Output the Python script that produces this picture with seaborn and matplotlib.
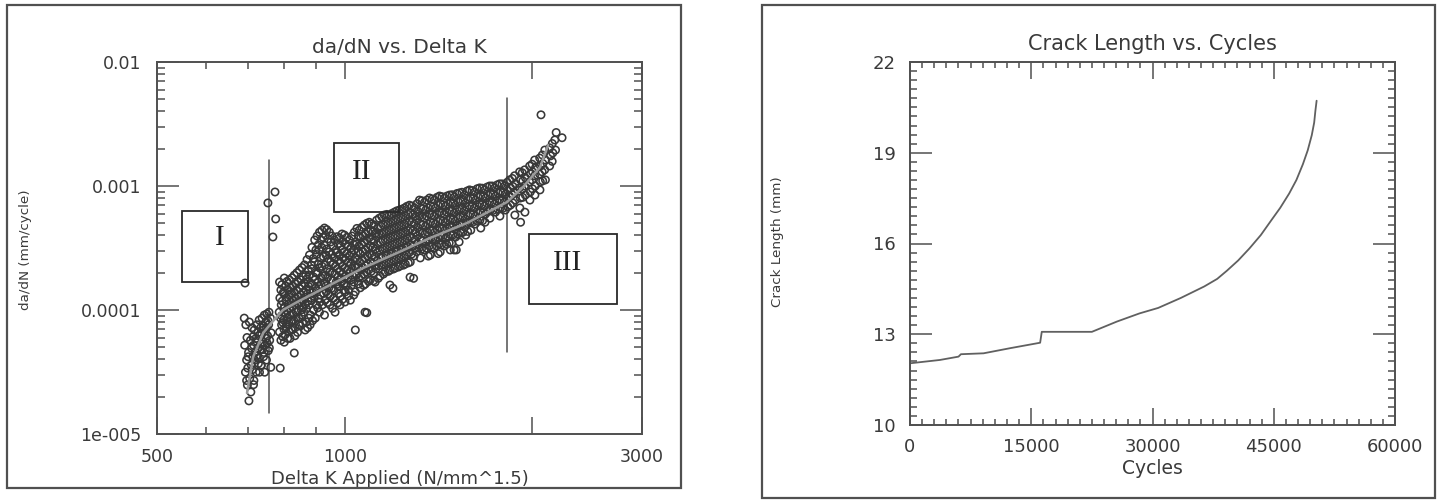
"""
Fatigue crack growth: da/dN vs Delta K (log-log) and crack length vs cycles.
"""

import matplotlib
matplotlib.use('Agg')
import matplotlib.pyplot as plt
import matplotlib.ticker as mticker
from matplotlib.patches import Rectangle
import numpy as np
import pandas as pd
import seaborn as sns

# --- da/dN scatter (Delta K in N/mm^1.5, da/dN in mm/cycle) ---
# stage I cluster + a few outliers
dk_s1 = [
    690, 694, 691, 696, 693, 698,
    703, 706, 701, 708, 704, 707, 702,
    716, 720, 714, 719, 717, 721, 715,
    729, 733, 728, 735, 731, 727, 734, 730,
    743, 747, 741, 748, 745, 742, 749, 744,
    756, 760, 755, 762, 758, 757, 761,
    697, 700, 699, 696,
    710, 713, 709, 712, 711, 714,
    723, 726, 722, 725, 724, 727,
    737, 740, 736, 739, 738, 741, 735,
    750, 753, 749, 752, 751, 754,
    692, 753, 773, 775, 767, 788, 830, 1040, 1085, 1195, 1290, 1510,
]
dadn_s1 = [
    8.6e-5, 7.6e-5, 5.2e-5, 3.95e-5, 3.15e-5, 2.48e-5,
    8.0e-5, 5.7e-5, 4.55e-5, 3.6e-5, 2.8e-5, 2.18e-5, 1.85e-5,
    6.9e-5, 5.9e-5, 5.2e-5, 4.55e-5, 3.95e-5, 3.15e-5, 2.7e-5,
    8.3e-5, 7.2e-5, 6.2e-5, 5.3e-5, 4.75e-5, 4.1e-5, 3.55e-5, 3.15e-5,
    9.1e-5, 8.0e-5, 6.9e-5, 5.9e-5, 5.2e-5, 4.55e-5, 3.95e-5, 3.15e-5,
    9.6e-5, 8.6e-5, 7.6e-5, 6.55e-5, 5.7e-5, 4.95e-5, 3.45e-5,
    6.0e-5, 4.2e-5, 3.4e-5, 2.7e-5,
    7.2e-5, 6.1e-5, 4.9e-5, 4.2e-5, 3.3e-5, 2.5e-5,
    7.6e-5, 6.6e-5, 5.6e-5, 4.9e-5, 4.3e-5, 3.7e-5,
    8.6e-5, 7.4e-5, 6.4e-5, 5.5e-5, 4.8e-5, 4.2e-5, 3.6e-5,
    9.3e-5, 8.2e-5, 7.2e-5, 6.2e-5, 5.4e-5, 4.7e-5,
    1.65e-4, 7.3e-4, 8.95e-4, 5.42e-4, 3.88e-4, 3.4e-5, 4.5e-5, 6.9e-5, 9.5e-5, 1.5e-4, 1.8e-4, 3.05e-4,
]

# stage II band
dk_s2 = [
    786, 790, 787, 791, 785, 789, 792, 786, 790,
    800, 804, 799, 805, 801, 803, 798, 806, 802, 800,
    815, 819, 814, 820, 816, 818, 813, 821, 817,
    830, 835, 829, 834, 831, 836, 828, 833, 832,
    846, 851, 845, 850, 847, 852, 844, 849,
    862, 866, 861, 867, 863, 865, 860, 868, 864,
    878, 883, 877, 882, 879, 884, 876, 881, 880,
    895, 899, 894, 900, 896, 898, 893, 901, 897,
    911, 916, 910, 915, 912, 917, 909, 914, 913, 911,
    928, 932, 927, 933, 929, 931, 926, 934, 930, 928,
    945, 950, 944, 949, 946, 951, 943, 948, 947,
    963, 968, 962, 967, 964, 969, 961, 966, 965,
    981, 986, 980, 985, 982, 987, 979, 984, 983,
    999, 1004, 998, 1003, 1000, 1005, 997, 1002, 1001,
    1017, 1023, 1016, 1022, 1019, 1024, 1015, 1021,
    1036, 1042, 1035, 1041, 1038, 1043, 1034, 1040,
    1055, 1061, 1054, 1060, 1057, 1062, 1053, 1059,
    1075, 1081, 1074, 1080, 1077, 1082, 1073, 1079, 1078,
    1095, 1101, 1094, 1100, 1097, 1102, 1093, 1099,
    1115, 1121, 1114, 1120, 1117, 1122, 1113, 1119,
    1136, 1142, 1135, 1141, 1138, 1143, 1134, 1140,
    1157, 1163, 1156, 1162, 1159, 1164, 1155, 1161,
    1179, 1185, 1178, 1184, 1181, 1186, 1177, 1183, 1182,
    1201, 1207, 1200, 1206, 1203, 1208, 1199, 1205,
    1224, 1230, 1223, 1229, 1226, 1231, 1222, 1228,
    1247, 1253, 1246, 1252, 1249, 1254, 1245, 1251,
    1270, 1276, 1269, 1275, 1272, 1277, 1268, 1274, 1273,
    1294, 1300, 1293, 1299, 1296, 1301, 1292,
    1318, 1324, 1317, 1323, 1320, 1325, 1316, 1322,
    1343, 1349, 1342, 1348, 1345, 1350, 1341,
    1368, 1374, 1367, 1373, 1370, 1375, 1366, 1372,
    1393, 1399, 1392, 1398, 1395, 1400, 1391,
    1419, 1425, 1418, 1424, 1421, 1426, 1417, 1423,
    1446, 1452, 1445, 1451, 1448, 1453, 1444,
    1473, 1479, 1472, 1478, 1475, 1480, 1471, 1477,
    1500, 1506, 1499, 1505, 1502, 1507, 1498,
    1528, 1534, 1527, 1533, 1530, 1535, 1526,
    1557, 1563, 1556, 1562, 1559, 1564,
    1586, 1592, 1585, 1591, 1588, 1593,
    1616, 1622, 1615, 1621, 1618,
    1646, 1652, 1645, 1651, 1648, 1653,
    1677, 1683, 1676, 1682, 1679,
    1708, 1714, 1707, 1713, 1710,
    1740, 1746, 1739, 1745,
    1772, 1778, 1771, 1777, 1774,
    1805, 1811, 1804, 1810,
]
dadn_s2 = [
    1.68e-4, 1.45e-4, 1.25e-4, 1.1e-4, 9.6e-5, 8.6e-5, 7.6e-5, 6.65e-5, 5.7e-5,
    1.81e-4, 1.56e-4, 1.35e-4, 1.2e-4, 1.06e-4, 9.3e-5, 8.3e-5, 7.3e-5, 6.3e-5, 5.5e-5,
    1.75e-4, 1.51e-4, 1.32e-4, 1.16e-4, 1.04e-4, 9.1e-5, 8.0e-5, 6.9e-5, 5.9e-5,
    1.91e-4, 1.62e-4, 1.4e-4, 1.25e-4, 1.1e-4, 9.6e-5, 8.3e-5, 7.2e-5, 6.2e-5,
    2.1e-4, 1.75e-4, 1.51e-4, 1.32e-4, 1.16e-4, 1.0e-4, 8.6e-5, 7.45e-5,
    2.31e-4, 1.91e-4, 1.65e-4, 1.45e-4, 1.27e-4, 1.12e-4, 9.6e-5, 8.0e-5, 6.9e-5,
    2.78e-4, 2.31e-4, 1.91e-4, 1.65e-4, 1.45e-4, 1.25e-4, 1.1e-4, 9.1e-5, 7.6e-5,
    3.67e-4, 3.05e-4, 2.44e-4, 2.02e-4, 1.75e-4, 1.51e-4, 1.29e-4, 1.1e-4, 8.6e-5,
    4.24e-4, 3.67e-4, 3.05e-4, 2.63e-4, 2.18e-4, 1.81e-4, 1.56e-4, 1.32e-4, 1.16e-4, 9.6e-5,
    4.58e-4, 4.02e-4, 3.34e-4, 2.78e-4, 2.31e-4, 1.91e-4, 1.65e-4, 1.4e-4, 1.2e-4, 9.1e-5,
    4.24e-4, 3.54e-4, 2.94e-4, 2.44e-4, 2.02e-4, 1.75e-4, 1.51e-4, 1.29e-4, 1.1e-4,
    3.67e-4, 3.05e-4, 2.63e-4, 2.27e-4, 1.95e-4, 1.68e-4, 1.45e-4, 1.2e-4, 9.6e-5,
    3.81e-4, 3.28e-4, 2.78e-4, 2.4e-4, 2.06e-4, 1.78e-4, 1.54e-4, 1.29e-4, 1.1e-4,
    4.02e-4, 3.41e-4, 2.94e-4, 2.53e-4, 2.18e-4, 1.88e-4, 1.62e-4, 1.4e-4, 1.16e-4,
    3.67e-4, 3.16e-4, 2.73e-4, 2.35e-4, 2.02e-4, 1.75e-4, 1.45e-4, 1.2e-4,
    4.24e-4, 3.54e-4, 3.05e-4, 2.63e-4, 2.27e-4, 1.95e-4, 1.68e-4, 1.4e-4,
    4.4e-4, 3.81e-4, 3.28e-4, 2.83e-4, 2.44e-4, 2.1e-4, 1.81e-4, 1.51e-4,
    4.84e-4, 4.1e-4, 3.54e-4, 3.05e-4, 2.63e-4, 2.27e-4, 1.95e-4, 1.62e-4, 9.6e-5,
    5.1e-4, 4.4e-4, 3.81e-4, 3.28e-4, 2.83e-4, 2.44e-4, 2.1e-4, 1.75e-4,
    4.84e-4, 4.17e-4, 3.6e-4, 3.1e-4, 2.68e-4, 2.31e-4, 1.99e-4, 1.68e-4,
    5.5e-4, 4.75e-4, 4.1e-4, 3.54e-4, 3.05e-4, 2.63e-4, 2.27e-4, 1.88e-4,
    5.83e-4, 4.93e-4, 4.24e-4, 3.67e-4, 3.16e-4, 2.73e-4, 2.35e-4, 2.02e-4,
    5.83e-4, 5.1e-4, 4.4e-4, 3.81e-4, 3.28e-4, 2.83e-4, 2.44e-4, 2.1e-4, 1.59e-4,
    6.15e-4, 5.3e-4, 4.58e-4, 3.95e-4, 3.41e-4, 2.94e-4, 2.53e-4, 2.18e-4,
    6.4e-4, 5.5e-4, 4.75e-4, 4.1e-4, 3.54e-4, 3.05e-4, 2.63e-4, 2.27e-4,
    6.65e-4, 5.72e-4, 4.93e-4, 4.24e-4, 3.67e-4, 3.16e-4, 2.73e-4, 2.35e-4,
    7.0e-4, 6.05e-4, 5.2e-4, 4.49e-4, 3.88e-4, 3.34e-4, 2.89e-4, 2.44e-4, 1.84e-4,
    6.65e-4, 5.72e-4, 4.93e-4, 4.24e-4, 3.67e-4, 3.16e-4, 2.73e-4,
    7.7e-4, 6.65e-4, 5.72e-4, 4.93e-4, 4.24e-4, 3.67e-4, 3.16e-4, 2.63e-4,
    7.4e-4, 6.4e-4, 5.5e-4, 4.75e-4, 4.1e-4, 3.54e-4, 3.05e-4,
    8.0e-4, 6.9e-4, 5.94e-4, 5.1e-4, 4.4e-4, 3.81e-4, 3.28e-4, 2.78e-4,
    7.7e-4, 6.65e-4, 5.72e-4, 4.93e-4, 4.24e-4, 3.67e-4, 3.16e-4,
    8.3e-4, 7.15e-4, 6.15e-4, 5.3e-4, 4.58e-4, 3.95e-4, 3.41e-4, 2.94e-4,
    8.0e-4, 6.9e-4, 5.94e-4, 5.1e-4, 4.4e-4, 3.81e-4, 3.28e-4,
    8.45e-4, 7.3e-4, 6.3e-4, 5.4e-4, 4.66e-4, 4.02e-4, 3.47e-4, 3.05e-4,
    8.15e-4, 7.0e-4, 6.05e-4, 5.2e-4, 4.49e-4, 3.88e-4, 3.05e-4,
    8.8e-4, 7.55e-4, 6.5e-4, 5.6e-4, 4.84e-4, 4.17e-4, 3.54e-4,
    8.45e-4, 7.3e-4, 6.3e-4, 5.4e-4, 4.66e-4, 4.02e-4,
    9.3e-4, 8.0e-4, 6.9e-4, 5.94e-4, 5.1e-4, 4.4e-4,
    8.95e-4, 7.7e-4, 6.65e-4, 5.72e-4, 4.93e-4,
    9.65e-4, 8.3e-4, 7.15e-4, 6.15e-4, 5.3e-4, 4.58e-4,
    9.3e-4, 8.0e-4, 6.9e-4, 5.94e-4, 5.1e-4,
    1.0e-3, 8.6e-4, 7.4e-4, 6.4e-4, 5.5e-4,
    9.65e-4, 8.3e-4, 7.15e-4, 6.15e-4,
    1.04e-3, 8.95e-4, 7.7e-4, 6.65e-4, 5.72e-4,
    1.0e-3, 8.6e-4, 7.4e-4, 6.4e-4,
]

# stage II band, points lying between the columns above
dk_s2b = [
    793, 797, 794, 798, 792, 796, 799, 795,
    808, 812, 807, 813, 809, 811, 806, 814, 810,
    823, 827, 822, 828, 824, 826, 821, 825,
    838, 842, 837, 843, 839, 841, 836, 844, 840,
    854, 858, 853, 859, 855, 857, 852, 856,
    870, 874, 869, 875, 871, 873, 868, 876, 872,
    886, 890, 885, 891, 887, 889, 884, 892, 888,
    903, 907, 902, 908, 904, 906, 901, 909, 905,
    919, 923, 918, 924, 920, 922, 917, 925, 921,
    936, 940, 935, 941, 937, 939, 934, 942, 938,
    954, 958, 953, 959, 955, 957, 952, 960, 956,
    972, 976, 971, 977, 973, 975, 970, 978, 974,
    990, 994, 989, 995, 991, 993, 988, 996, 992,
    1008, 1012, 1007, 1013, 1009, 1011, 1006, 1014,
    1027, 1033, 1026, 1032, 1029, 1031, 1025, 1034,
    1046, 1052, 1045, 1051, 1048, 1050, 1044, 1053,
    1065, 1071, 1064, 1070, 1067, 1069, 1063, 1072,
    1085, 1091, 1084, 1090, 1087, 1089, 1083, 1092,
    1105, 1111, 1104, 1110, 1107, 1109, 1103, 1112,
    1125, 1131, 1124, 1130, 1127, 1129, 1123, 1132,
    1147, 1153, 1146, 1152, 1149, 1151, 1145, 1154,
    1168, 1174, 1167, 1173, 1170, 1172, 1166, 1175,
    1190, 1196, 1189, 1195, 1192, 1194, 1188, 1197,
    1212, 1218, 1211, 1217, 1214, 1216, 1210, 1219,
    1235, 1241, 1234, 1240, 1237, 1239, 1233, 1242,
    1258, 1264, 1257, 1263, 1260, 1262, 1256, 1265,
    1282, 1288, 1281, 1287, 1284, 1286, 1280,
    1306, 1312, 1305, 1311, 1308, 1310, 1304,
    1330, 1336, 1329, 1335, 1332, 1334, 1328,
    1355, 1361, 1354, 1360, 1357, 1359, 1353, 1362,
    1381, 1387, 1380, 1386, 1383, 1385, 1379,
    1406, 1412, 1405, 1411, 1408, 1410, 1404, 1413,
    1432, 1438, 1431, 1437, 1434, 1436, 1430,
    1459, 1465, 1458, 1464, 1461, 1463, 1457,
    1487, 1493, 1486, 1492, 1489, 1491, 1485,
    1514, 1520, 1513, 1519, 1516, 1518,
    1542, 1548, 1541, 1547, 1544, 1546,
    1571, 1577, 1570, 1576, 1573, 1575,
    1601, 1607, 1600, 1606, 1603,
    1631, 1637, 1630, 1636, 1633,
    1662, 1668, 1661, 1667, 1664,
    1692, 1698, 1691, 1697,
    1724, 1730, 1723, 1729,
    1756, 1762, 1755, 1761,
    1788, 1794, 1787, 1793,
    1822, 1828, 1821, 1827,
]
dadn_s2b = [
    1.6e-4, 1.38e-4, 1.18e-4, 1.03e-4, 9.0e-5, 7.9e-5, 7.0e-5, 6.1e-5,
    1.7e-4, 1.45e-4, 1.26e-4, 1.12e-4, 9.8e-5, 8.7e-5, 7.7e-5, 6.7e-5, 5.9e-5,
    1.82e-4, 1.55e-4, 1.36e-4, 1.19e-4, 1.06e-4, 9.3e-5, 8.2e-5, 7.0e-5,
    2.0e-4, 1.68e-4, 1.44e-4, 1.28e-4, 1.13e-4, 9.9e-5, 8.7e-5, 7.6e-5, 6.6e-5,
    2.2e-4, 1.85e-4, 1.58e-4, 1.38e-4, 1.2e-4, 1.05e-4, 9.1e-5, 7.8e-5,
    2.55e-4, 2.1e-4, 1.78e-4, 1.55e-4, 1.35e-4, 1.18e-4, 1.03e-4, 8.6e-5, 7.2e-5,
    3.2e-4, 2.6e-4, 2.15e-4, 1.85e-4, 1.6e-4, 1.38e-4, 1.19e-4, 1.0e-4, 8.2e-5,
    3.95e-4, 3.35e-4, 2.8e-4, 2.35e-4, 1.97e-4, 1.68e-4, 1.43e-4, 1.23e-4, 1.04e-4,
    4.4e-4, 3.85e-4, 3.2e-4, 2.7e-4, 2.25e-4, 1.88e-4, 1.6e-4, 1.36e-4, 1.1e-4,
    4.45e-4, 3.75e-4, 3.1e-4, 2.6e-4, 2.15e-4, 1.83e-4, 1.57e-4, 1.35e-4, 1.15e-4,
    3.95e-4, 3.3e-4, 2.8e-4, 2.35e-4, 2.0e-4, 1.72e-4, 1.49e-4, 1.25e-4, 1.03e-4,
    3.9e-4, 3.4e-4, 2.9e-4, 2.5e-4, 2.15e-4, 1.85e-4, 1.6e-4, 1.36e-4, 1.14e-4,
    4.1e-4, 3.55e-4, 3.05e-4, 2.62e-4, 2.25e-4, 1.95e-4, 1.68e-4, 1.45e-4, 1.22e-4,
    3.85e-4, 3.3e-4, 2.85e-4, 2.45e-4, 2.1e-4, 1.82e-4, 1.55e-4, 1.3e-4,
    3.95e-4, 3.38e-4, 2.9e-4, 2.5e-4, 2.15e-4, 1.86e-4, 1.58e-4, 1.32e-4,
    4.55e-4, 3.95e-4, 3.4e-4, 2.95e-4, 2.55e-4, 2.2e-4, 1.9e-4, 1.62e-4,
    4.65e-4, 3.95e-4, 3.4e-4, 2.95e-4, 2.55e-4, 2.2e-4, 1.88e-4, 1.58e-4,
    5.0e-4, 4.25e-4, 3.68e-4, 3.15e-4, 2.73e-4, 2.36e-4, 2.02e-4, 1.7e-4,
    4.95e-4, 4.3e-4, 3.7e-4, 3.2e-4, 2.76e-4, 2.38e-4, 2.05e-4, 1.72e-4,
    5.3e-4, 4.55e-4, 3.9e-4, 3.35e-4, 2.9e-4, 2.5e-4, 2.15e-4, 1.8e-4,
    5.65e-4, 4.85e-4, 4.15e-4, 3.6e-4, 3.1e-4, 2.68e-4, 2.3e-4, 1.95e-4,
    5.9e-4, 5.0e-4, 4.3e-4, 3.72e-4, 3.22e-4, 2.78e-4, 2.4e-4, 2.05e-4,
    6.0e-4, 5.2e-4, 4.48e-4, 3.88e-4, 3.35e-4, 2.88e-4, 2.48e-4, 2.14e-4,
    6.3e-4, 5.4e-4, 4.65e-4, 4.0e-4, 3.47e-4, 3.0e-4, 2.58e-4, 2.22e-4,
    6.5e-4, 5.6e-4, 4.82e-4, 4.17e-4, 3.6e-4, 3.1e-4, 2.68e-4, 2.3e-4,
    6.85e-4, 5.9e-4, 5.05e-4, 4.36e-4, 3.77e-4, 3.25e-4, 2.8e-4, 2.4e-4,
    6.9e-4, 5.9e-4, 5.1e-4, 4.4e-4, 3.8e-4, 3.27e-4, 2.82e-4,
    7.2e-4, 6.2e-4, 5.33e-4, 4.6e-4, 3.96e-4, 3.42e-4, 2.95e-4,
    7.6e-4, 6.55e-4, 5.63e-4, 4.85e-4, 4.18e-4, 3.6e-4, 3.1e-4,
    7.7e-4, 6.65e-4, 5.73e-4, 4.93e-4, 4.25e-4, 3.66e-4, 3.15e-4, 2.72e-4,
    7.85e-4, 6.8e-4, 5.85e-4, 5.05e-4, 4.35e-4, 3.75e-4, 3.22e-4,
    8.1e-4, 7.0e-4, 6.0e-4, 5.18e-4, 4.45e-4, 3.85e-4, 3.3e-4, 2.85e-4,
    8.2e-4, 7.05e-4, 6.05e-4, 5.22e-4, 4.5e-4, 3.88e-4, 3.35e-4,
    8.3e-4, 7.15e-4, 6.15e-4, 5.3e-4, 4.56e-4, 3.93e-4, 3.38e-4,
    8.5e-4, 7.3e-4, 6.3e-4, 5.42e-4, 4.67e-4, 4.02e-4, 3.45e-4,
    8.7e-4, 7.5e-4, 6.45e-4, 5.55e-4, 4.78e-4, 4.12e-4,
    8.9e-4, 7.65e-4, 6.6e-4, 5.68e-4, 4.9e-4, 4.22e-4,
    9.1e-4, 7.85e-4, 6.75e-4, 5.82e-4, 5.0e-4, 4.3e-4,
    9.2e-4, 7.95e-4, 6.85e-4, 5.9e-4, 5.08e-4,
    9.5e-4, 8.15e-4, 7.0e-4, 6.05e-4, 5.2e-4,
    9.6e-4, 8.25e-4, 7.1e-4, 6.1e-4, 5.25e-4,
    9.8e-4, 8.45e-4, 7.25e-4, 6.25e-4,
    1.0e-3, 8.6e-4, 7.4e-4, 6.35e-4,
    1.02e-3, 8.8e-4, 7.55e-4, 6.5e-4,
    1.04e-3, 8.9e-4, 7.65e-4, 6.6e-4,
    1.07e-3, 9.2e-4, 7.9e-4, 6.8e-4,
]

# stage III
dk_s3 = [
    1839, 1845, 1838, 1844,
    1858, 1862, 1857, 1861,
    1873, 1879, 1872, 1878, 1875,
    1908, 1914, 1907, 1913, 1910, 1915,
    1927, 1931, 1926, 1930,
    1944, 1950, 1943, 1949, 1946,
    1980, 1986, 1979, 1985, 1982,
    1998, 2002, 1997, 2001,
    2017, 2023, 2016, 2022, 2019,
    2055, 2061, 2054, 2060, 2057,
    2075, 2079, 2074, 2078,
    2094, 2100, 2093, 2099,
    2133, 2139, 2132,
    2153, 2157, 2152,
    2173, 2179,
    2065, 2184, 2232,
]
dadn_s3 = [
    1.12e-3, 9.65e-4, 8.3e-4, 7.0e-4,
    1.15e-3, 9.9e-4, 8.5e-4, 7.3e-4,
    1.21e-3, 1.04e-3, 8.95e-4, 7.7e-4, 5.83e-4,
    1.3e-3, 1.12e-3, 9.65e-4, 8.0e-4, 6.65e-4, 5.1e-4,
    1.28e-3, 1.1e-3, 9.4e-4, 8.1e-4,
    1.35e-3, 1.16e-3, 1.0e-3, 8.45e-4, 6.15e-4,
    1.45e-3, 1.25e-3, 1.08e-3, 8.95e-4, 7.7e-4,
    1.5e-3, 1.3e-3, 1.12e-3, 9.5e-4,
    1.62e-3, 1.4e-3, 1.21e-3, 1.0e-3, 8.45e-4,
    1.68e-3, 1.45e-3, 1.25e-3, 1.08e-3, 9.3e-4,
    1.78e-3, 1.52e-3, 1.3e-3, 1.1e-3,
    1.95e-3, 1.62e-3, 1.35e-3, 1.12e-3,
    2.03e-3, 1.75e-3, 1.45e-3,
    2.2e-3, 1.85e-3, 1.58e-3,
    2.35e-3, 1.95e-3,
    3.75e-3, 2.7e-3, 2.45e-3,
]

# fitted curve through the data
dk_fit = [697, 713, 740, 765, 796, 839, 947, 1070, 1213, 1371, 1571, 1822, 1933, 2058, 2120]
dadn_fit = [2.14e-5, 4.18e-5, 6.53e-5, 8.0e-5, 1.0e-4, 1.16e-4, 1.59e-4, 2.18e-4,
            2.88e-4, 3.81e-4, 5.03e-4, 7.43e-4, 9.82e-4, 1.42e-3, 2.14e-3]

# region boundaries (Delta K) and their vertical extent
bound_dk = [756, 1822]
bound_lo = [1.48e-5, 4.58e-5]
bound_hi = [1.62e-3, 5.13e-3]
region_labels = ["I", "II", "III"]

# --- crack length vs cycles ---
cycles = [0, 3700, 6000, 6300, 9100, 12400, 16100, 16300, 22500, 25600, 28400, 30700,
          33500, 36400, 38000, 39200, 40600, 42000, 43400, 44700, 45800, 46900, 47800,
          48600, 49200, 49700, 50000, 50150, 50300]
crack_len = [12.04, 12.15, 12.26, 12.34, 12.37, 12.54, 12.72, 13.08, 13.08, 13.42, 13.69, 13.87,
             14.20, 14.58, 14.83, 15.10, 15.44, 15.84, 16.28, 16.77, 17.18, 17.65, 18.10,
             18.62, 19.08, 19.58, 20.00, 20.39, 20.72]

AX_COL = '#505050'
TXT_COL = '#3a3a3a'

sns.set_style("ticks")
plt.rcParams['font.family'] = ['DejaVu Sans']

fig = plt.figure(figsize=(14.41, 5.0), dpi=100)

# outer frames around each panel
for x0, y0, w, h in [(0.0049, 0.024, 0.4677, 0.966), (0.5288, 0.004, 0.4670, 0.986)]:
    fig.patches.append(Rectangle((x0, y0), w, h, transform=fig.transFigure,
                                 fill=False, edgecolor=AX_COL, linewidth=1.6))

ax1 = fig.add_axes([0.1090, 0.132, 0.3366, 0.744])
ax2 = fig.add_axes([0.6315, 0.150, 0.3366, 0.726])

# ── 1. da/dN vs Delta K
ax1.set_xscale('log')
ax1.set_yscale('log')

pts = pd.DataFrame({
    "dk": dk_s1 + dk_s2 + dk_s2b + dk_s3,
    "dadn": dadn_s1 + dadn_s2 + dadn_s2b + dadn_s3,
})
sns.scatterplot(data=pts, x="dk", y="dadn", ax=ax1, marker='o', s=28,
                facecolor='none', edgecolor='#383838', linewidth=1.15, legend=False, zorder=3)
ax1.collections[-1].set_facecolor('none')

sns.lineplot(x=dk_fit, y=dadn_fit, ax=ax1, sort=False, estimator=None,
             color='#9a9a9a', linewidth=1.8, legend=False, zorder=4)

for xb, lo, hi in zip(bound_dk, bound_lo, bound_hi):
    ax1.plot([xb, xb], [lo, hi], color=AX_COL, linewidth=1.1, zorder=2)

# region boxes (axes fraction)
boxes = [(0.0515, 0.4086, 0.1361, 0.1909), (0.365, 0.597, 0.134, 0.185), (0.767, 0.349, 0.181, 0.189)]
text_pos = [(0.130, 0.527), (0.421, 0.704), (0.847, 0.460)]
for (bx, by, bw, bh), (tx, ty), lab in zip(boxes, text_pos, region_labels):
    ax1.add_patch(Rectangle((bx, by), bw, bh, transform=ax1.transAxes, fill=False,
                            edgecolor='#2a2a2a', linewidth=1.3, zorder=5))
    ax1.text(tx, ty, lab, transform=ax1.transAxes, ha='center', va='center',
             family='Liberation Serif', fontsize=21, color='#222222', zorder=6)

ax1.set_xlim(500, 3000)
ax1.set_ylim(1e-5, 1e-2)
ax1.xaxis.set_major_locator(mticker.FixedLocator([500, 1000, 2000, 3000]))
ax1.xaxis.set_major_formatter(mticker.FixedFormatter(['500', '1000', '', '3000']))
ax1.xaxis.set_minor_locator(mticker.FixedLocator([600, 700, 800, 900]))
ax1.xaxis.set_minor_formatter(mticker.NullFormatter())
ax1.yaxis.set_major_locator(mticker.FixedLocator([1e-5, 1e-4, 1e-3, 1e-2]))
ax1.yaxis.set_major_formatter(mticker.FixedFormatter(['1e-005', '0.0001', '0.001', '0.01']))
ax1.yaxis.set_minor_locator(mticker.LogLocator(base=10, subs=np.arange(2, 10)))
ax1.yaxis.set_minor_formatter(mticker.NullFormatter())

ax1.tick_params(which='both', direction='in', bottom=True, left=True, top=True, right=True,
                color=AX_COL, labelcolor=TXT_COL, width=1.1, labelsize=12.5)
ax1.tick_params(axis='x', which='major', length=12, pad=10)
ax1.tick_params(axis='x', which='minor', length=5)
ax1.tick_params(axis='y', which='major', length=16, pad=11)
ax1.tick_params(axis='y', which='minor', length=6)

ax1.set_title('da/dN vs. Delta K', fontsize=14.5, color=TXT_COL, y=1.038, pad=0, va='center')
ax1.set_xlabel('Delta K Applied (N/mm^1.5)', fontsize=13, color=TXT_COL)
ax1.set_ylabel('da/dN (mm/cycle)', fontsize=9.7, color=TXT_COL)
ax1.xaxis.set_label_coords(0.5, -0.097)
ax1.yaxis.set_label_coords(-0.258, 0.495)

# ── 2. Crack length vs cycles
sns.lineplot(x=cycles, y=crack_len, ax=ax2, sort=False, estimator=None,
             color='#606060', linewidth=1.3, legend=False)

ax2.set_xlim(0, 60000)
ax2.set_ylim(10, 22)
ax2.xaxis.set_major_locator(mticker.FixedLocator([0, 15000, 30000, 45000, 60000]))
ax2.xaxis.set_minor_locator(mticker.FixedLocator(np.linspace(0, 60000, 41)))
ax2.yaxis.set_major_locator(mticker.FixedLocator([10, 13, 16, 19, 22]))
ax2.yaxis.set_minor_locator(mticker.FixedLocator(np.linspace(10, 22, 41)))
ax2.xaxis.set_major_formatter(mticker.FormatStrFormatter('%d'))
ax2.yaxis.set_major_formatter(mticker.FormatStrFormatter('%d'))

ax2.tick_params(which='both', direction='in', bottom=True, left=True, top=True, right=True,
                color=AX_COL, labelcolor=TXT_COL, width=1.1, labelsize=13)
ax2.tick_params(axis='x', which='major', length=12, pad=9.5)
ax2.tick_params(axis='x', which='minor', length=4)
ax2.tick_params(axis='y', which='major', length=16, pad=10)
ax2.tick_params(axis='y', which='minor', length=5)

ax2.set_title('Crack Length vs. Cycles', fontsize=15, color=TXT_COL, y=1.050, pad=0, va='center')
ax2.set_xlabel('Cycles', fontsize=13.5, color=TXT_COL)
ax2.set_ylabel('Crack Length (mm)', fontsize=9.7, color=TXT_COL)
ax2.xaxis.set_label_coords(0.5, -0.094)
ax2.yaxis.set_label_coords(-0.26, 0.504)

for ax in (ax1, ax2):
    for sp in ax.spines.values():
        sp.set_visible(True)
        sp.set_color(AX_COL)
        sp.set_linewidth(1.4)

fig.savefig('out.png', dpi=100, facecolor='white')
plt.close(fig)
